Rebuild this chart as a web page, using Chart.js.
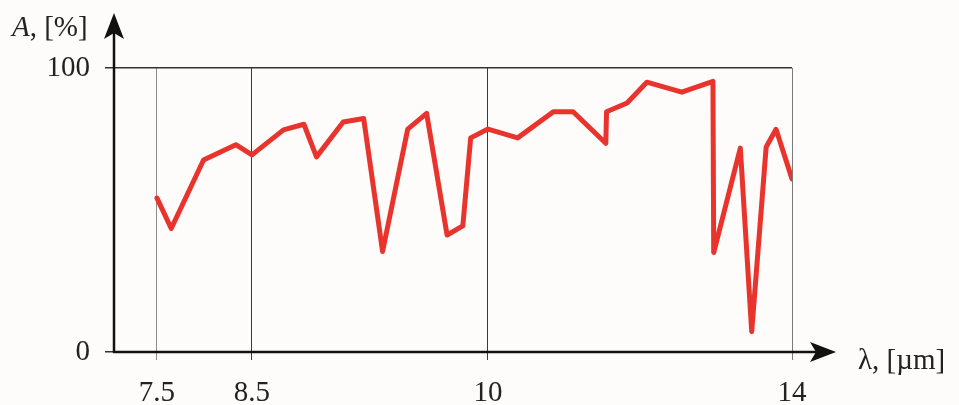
<!DOCTYPE html>
<html>
<head>
<meta charset="utf-8">
<script src="https://cdn.jsdelivr.net/npm/chart.js@4.4.1/dist/chart.umd.min.js"></script>
<style>
  html, body { margin: 0; background: #fdfcfa; }
  canvas { display: block; }
</style>
</head>
<body>
<canvas id="absChart" width="959" height="405"></canvas>
<script>
'use strict';

// ── DATA ──
const wavelength  = [7.5, 7.65, 7.99, 8.33, 8.5, 8.70, 8.83, 8.91, 9.08, 9.21, 9.33, 9.49, 9.61, 9.74, 9.84, 9.89,
                     10.0, 10.39, 10.86, 11.12, 11.55, 11.56, 11.83, 12.09, 12.55, 12.96, 12.97, 13.32, 13.47, 13.66, 13.79, 14.0];
const absorptance = [54.2, 43.5, 67.6, 73.0, 69.4, 78.2, 80.2, 68.7, 81.0, 82.2, 35.4, 78.5, 84.0, 41.2, 44.4, 75.4,
                     78.5, 75.4, 84.6, 84.6, 73.5, 84.6, 87.7, 95.0, 91.5, 95.3, 35.0, 71.8, 7.2, 72.2, 78.4, 60.9];
const xTicks = [7.5, 8.5, 10, 14];
const yTicks = [0, 100];

// ── NON-UNIFORM X AXIS ──
// the source axis is not to scale, each labelled wavelength has its own spot along the width
const xBreaks = [[7.05, 0], [7.5, 0.0634], [8.5, 0.2035], [10, 0.5516], [14, 1]];

class PiecewiseScale extends Chart.LinearScale {
  getPixelForValue(v) {
    let i = 1;
    while (i < xBreaks.length - 1 && v > xBreaks[i][0]) i++;
    const [v0, f0] = xBreaks[i - 1], [v1, f1] = xBreaks[i];
    return this.getPixelForDecimal(f0 + (v - v0) / (v1 - v0) * (f1 - f0));
  }
  getValueForPixel(p) {
    const f = this.getDecimalForPixel(p);
    let i = 1;
    while (i < xBreaks.length - 1 && f > xBreaks[i][1]) i++;
    const [v0, f0] = xBreaks[i - 1], [v1, f1] = xBreaks[i];
    return v0 + (f - f0) / (f1 - f0) * (v1 - v0);
  }
}
PiecewiseScale.id = 'piecewise';
PiecewiseScale.defaults = {};
Chart.register(PiecewiseScale);

const SERIF = "'Liberation Serif', 'DejaVu Serif', serif";

// ── AXES WITH ARROWS + TITLES ──
function arrowHead(ctx, x, y, dir) {
  // dir: 'up' or 'right'
  ctx.beginPath();
  if (dir === 'up') {
    ctx.moveTo(x, y);
    ctx.lineTo(x + 10, y + 26);
    ctx.lineTo(x, y + 20);
    ctx.lineTo(x - 10, y + 26);
  } else {
    ctx.moveTo(x, y);
    ctx.lineTo(x - 26, y - 10);
    ctx.lineTo(x - 20, y);
    ctx.lineTo(x - 26, y + 10);
  }
  ctx.closePath();
  ctx.fill();
}

const axisArrows = {
  id: 'axisArrows',
  afterDraw(chart) {
    const { ctx, chartArea: a } = chart;
    ctx.save();
    ctx.strokeStyle = '#111';
    ctx.fillStyle = '#111';
    ctx.lineWidth = 2.5;
    ctx.beginPath();
    ctx.moveTo(a.left, a.bottom + 1);
    ctx.lineTo(a.left, 30);
    ctx.moveTo(a.left - 1, a.bottom);
    ctx.lineTo(818, a.bottom);
    ctx.stroke();
    arrowHead(ctx, a.left, 13, 'up');
    arrowHead(ctx, 836, a.bottom, 'right');

    ctx.fillStyle = '#222';
    ctx.textBaseline = 'alphabetic';
    ctx.textAlign = 'left';
    ctx.font = 'italic 29px ' + SERIF;
    ctx.fillText('A', 12, 36);
    const w = ctx.measureText('A').width;
    ctx.font = '29px ' + SERIF;
    ctx.fillText(', [%]', 12 + w, 36);
    ctx.fillText('λ, [µm]', 858, 369);
    ctx.restore();
  }
};

// ── CHART ──
new Chart(document.getElementById('absChart'), {
  type: 'line',
  data: {
    datasets: [{
      label: 'A',
      data: wavelength.map((x, i) => ({ x, y: absorptance[i] })),
      borderColor: '#e8342c',
      borderWidth: 5,
      pointRadius: 0,
      tension: 0,
      borderJoinStyle: 'round',
      borderCapStyle: 'round'
    }]
  },
  options: {
    responsive: false,
    devicePixelRatio: 1,
    animation: false,
    layout: { padding: { left: 0, right: 167, top: 68, bottom: 0 } },
    plugins: { legend: { display: false }, tooltip: { enabled: false } },
    scales: {
      x: {
        type: 'piecewise',
        min: 7.05, max: 14,
        afterBuildTicks: s => { s.ticks = xTicks.map(v => ({ value: v })); },
        afterFit: s => { s.height = 53; },
        ticks: { color: '#222', font: { family: SERIF, size: 29 }, padding: 16, maxRotation: 0, autoSkip: false,
                 callback: v => String(v) },
        grid: { color: c => ['#8a8a8a', '#3a3a3a', '#3a3a3a', '#7a7a7a'][c.index] || '#555', lineWidth: 1, tickLength: 8 },
        border: { display: false }
      },
      y: {
        min: 0, max: 100,
        afterBuildTicks: s => { s.ticks = yTicks.map(v => ({ value: v })); },
        afterFit: s => { s.width = 114; },
        ticks: { color: '#222', font: { family: SERIF, size: 29 }, padding: 15, callback: v => String(v) },
        grid: { color: '#333', lineWidth: 1.5, tickLength: 9 },
        border: { display: false }
      }
    }
  },
  plugins: [axisArrows]
});
</script>
</body>
</html>
